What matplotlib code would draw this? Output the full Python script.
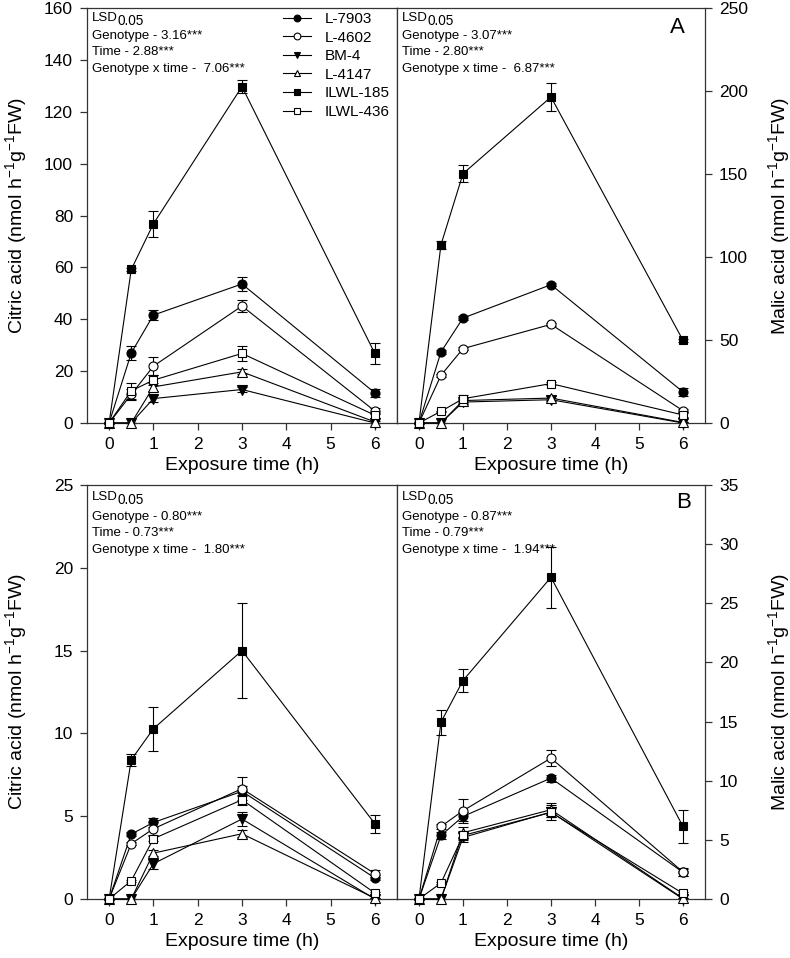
import matplotlib
matplotlib.use("Agg")
import matplotlib.pyplot as plt

plt.rcParams['font.family'] = ['Liberation Sans', 'DejaVu Sans']
plt.rcParams['mathtext.default'] = 'regular'

# exposure time (h)
hours = [0, 0.5, 1, 3, 6]
genotypes = ['L-7903', 'L-4602', 'BM-4', 'L-4147', 'ILWL-185', 'ILWL-436']

# panel A - citric acid
citric_a = {
    'L-7903': [0, 27.0, 41.6, 53.6, 11.6],
    'L-4602': [0, 11.0, 21.9, 45.1, 4.6],
    'BM-4': [0, 0, 9.4, 12.9, 0],
    'L-4147': [0, 0, 13.9, 19.7, 0.4],
    'ILWL-185': [0, 59.2, 76.8, 129.7, 26.8],
    'ILWL-436': [0, 12.4, 16.5, 26.8, 3.0],
}
citric_a_err = {
    'L-7903': [0, 2.6, 2.0, 2.8, 1.5],
    'L-4602': [0, 2.0, 3.5, 2.5, 1.0],
    'BM-4': [0, 0, 1.5, 0.8, 0],
    'L-4147': [0, 0, 1.5, 1.0, 0.3],
    'ILWL-185': [0, 0.5, 5.1, 2.6, 4.1],
    'ILWL-436': [0, 3.0, 2.0, 3.0, 1.0],
}

# panel A - malic acid
malic_a = {
    'L-7903': [0, 42.8, 63.2, 83.3, 18.7],
    'L-4602': [0, 28.7, 44.8, 59.4, 7.4],
    'BM-4': [0, 0, 12.6, 14.0, 0],
    'L-4147': [0, 0, 13.5, 15.0, 0.3],
    'ILWL-185': [0, 107.4, 150.2, 196.4, 49.8],
    'ILWL-436': [0, 7.0, 14.6, 23.7, 4.8],
}
malic_a_err = {
    'L-7903': [0, 1.0, 1.0, 1.0, 2.5],
    'L-4602': [0, 1.0, 1.0, 1.0, 1.0],
    'BM-4': [0, 0, 1.0, 1.0, 0],
    'L-4147': [0, 0, 1.0, 1.0, 0],
    'ILWL-185': [0, 2.5, 5.0, 8.5, 1.0],
    'ILWL-436': [0, 0.5, 2.5, 1.0, 1.0],
}

# panel B - citric acid
citric_b = {
    'L-7903': [0, 3.92, 4.62, 6.5, 1.27],
    'L-4602': [0, 3.34, 4.24, 6.66, 1.53],
    'BM-4': [0, 0, 2.13, 4.83, 0],
    'L-4147': [0, 0, 2.77, 3.94, 0.05],
    'ILWL-185': [0, 8.41, 10.28, 15.0, 4.55],
    'ILWL-436': [0, 1.1, 3.64, 5.99, 0.36],
}
citric_b_err = {
    'L-7903': [0, 0.1, 0.3, 0.3, 0.15],
    'L-4602': [0, 0.1, 0.4, 0.7, 0.2],
    'BM-4': [0, 0, 0.3, 0.45, 0],
    'L-4147': [0, 0, 0.2, 0.2, 0],
    'ILWL-185': [0, 0.35, 1.33, 2.86, 0.55],
    'ILWL-436': [0, 0.05, 0.15, 0.3, 0.05],
}

# panel B - malic acid
malic_b = {
    'L-7903': [0, 5.37, 6.98, 10.22, 2.25],
    'L-4602': [0, 6.13, 7.46, 11.91, 2.28],
    'BM-4': [0, 0, 5.2, 7.35, 0],
    'L-4147': [0, 0, 5.6, 7.55, 0.05],
    'ILWL-185': [0, 14.95, 18.47, 27.2, 6.13],
    'ILWL-436': [0, 1.35, 5.37, 7.32, 0.47],
}
malic_b_err = {
    'L-7903': [0, 0.3, 0.4, 0.3, 0.3],
    'L-4602': [0, 0.2, 1.0, 0.7, 0.3],
    'BM-4': [0, 0, 0.4, 0.4, 0],
    'L-4147': [0, 0, 0.5, 0.6, 0],
    'ILWL-185': [0, 1.05, 1.0, 2.6, 1.4],
    'ILWL-436': [0, 0.1, 0.4, 0.6, 0.1],
}

lsd_citric_a = ['3.16', '2.88', '7.06']
lsd_malic_a = ['3.07', '2.80', '6.87']
lsd_citric_b = ['0.80', '0.73', '1.80']
lsd_malic_b = ['0.87', '0.79', '1.94']

styles = {
    'L-7903': ('o', 'black', 6.5),
    'L-4602': ('o', 'white', 6.5),
    'BM-4': ('v', 'black', 6.5),
    'L-4147': ('^', 'white', 6.5),
    'ILWL-185': ('s', 'black', 5.5),
    'ILWL-436': ('s', 'white', 5.5),
}


def draw_panel(ax, data, err, ymax, ystep, side, lsd, text_y):
    for g in genotypes:
        m, fc, ms = styles[g]
        ax.errorbar(hours, data[g], yerr=err[g], fmt='none', ecolor='black',
                    capsize=3.5, elinewidth=0.8, capthick=0.8,
                    clip_on=False, zorder=2)
        ax.plot(hours, data[g], color='black', lw=0.8, marker=m, mfc=fc,
                mec='black', ms=ms, mew=0.8, clip_on=False, zorder=3, label=g)
    ax.set_xlim(-0.5, 6.5)
    ax.set_ylim(0, ymax)
    ax.set_xticks(range(7))
    ax.set_yticks(range(0, ymax + 1, ystep))
    for s in ax.spines.values():
        s.set_linewidth(0.9)
        s.set_color('#333333')
    ax.tick_params(axis='both', direction='out', length=5, width=0.9, pad=5,
                   labelsize=12.5, color='#333333')
    ax.tick_params(axis='x', top=False)
    if side == 'left':
        ax.tick_params(axis='y', left=True, right=False, labelleft=True, labelright=False)
    else:
        ax.tick_params(axis='y', left=False, right=True, labelleft=False, labelright=True)
        ax.yaxis.set_label_position('right')
    ax.set_xlabel('Exposure time (h)', fontsize=14, labelpad=4)

    x0 = 0.015
    t = ax.text(x0, text_y[0], 'LSD', transform=ax.transAxes,
                fontsize=9.5, va='center', ha='left')
    ax.annotate('0.05', xy=(1, 0.5), xycoords=t, xytext=(0.3, -2.4),
                textcoords='offset points', fontsize=9.8, va='center', ha='left')
    ax.text(x0, text_y[1], 'Genotype - ' + lsd[0] + '***', transform=ax.transAxes,
            fontsize=9.5, va='center', ha='left')
    ax.text(x0, text_y[2], 'Time - ' + lsd[1] + '***', transform=ax.transAxes,
            fontsize=9.5, va='center', ha='left')
    ax.text(x0, text_y[3], 'Genotype x time -  ' + lsd[2] + '***', transform=ax.transAxes,
            fontsize=9.5, va='center', ha='left')


fig = plt.figure(figsize=(7.9, 9.58), dpi=100)

ax1 = fig.add_axes([0.1101, 0.5585, 0.3924, 0.4331])
ax2 = fig.add_axes([0.5025, 0.5585, 0.3899, 0.4331])
ax3 = fig.add_axes([0.1101, 0.0616, 0.3924, 0.4321])
ax4 = fig.add_axes([0.5025, 0.0616, 0.3899, 0.4321])

top_text_y = [0.976, 0.9325, 0.893, 0.852]
bottom_text_y = [0.972, 0.923, 0.884, 0.843]

draw_panel(ax1, citric_a, citric_a_err, 160, 20, 'left', lsd_citric_a, top_text_y)
draw_panel(ax2, malic_a, malic_a_err, 250, 50, 'right', lsd_malic_a, top_text_y)
draw_panel(ax3, citric_b, citric_b_err, 25, 5, 'left', lsd_citric_b, bottom_text_y)
draw_panel(ax4, malic_b, malic_b_err, 35, 5, 'right', lsd_malic_b, bottom_text_y)

citric_label = 'Citric acid (nmol h$^{-1}$g$^{-1}$FW)'
malic_label = 'Malic acid (nmol h$^{-1}$g$^{-1}$FW)'
for ax in (ax1, ax3):
    ax.set_ylabel(citric_label, fontsize=14)
    ax.yaxis.set_label_coords(-0.187, 0.5)
for ax in (ax2, ax4):
    ax.set_ylabel(malic_label, fontsize=14, rotation=90)
    ax.yaxis.set_label_coords(1.198, 0.5)

ax2.text(0.909, 0.954, 'A', transform=ax2.transAxes, fontsize=16, ha='center', va='center')
ax4.text(0.932, 0.957, 'B', transform=ax4.transAxes, fontsize=16, ha='center', va='center')

leg = ax1.legend(loc='upper left', bbox_to_anchor=(0.613, 1.005), frameon=False,
                 fontsize=11, handlelength=1.8, handletextpad=0.9,
                 labelspacing=0.3, borderaxespad=0, markerscale=0.75)

fig.savefig('out.png', dpi=100)
